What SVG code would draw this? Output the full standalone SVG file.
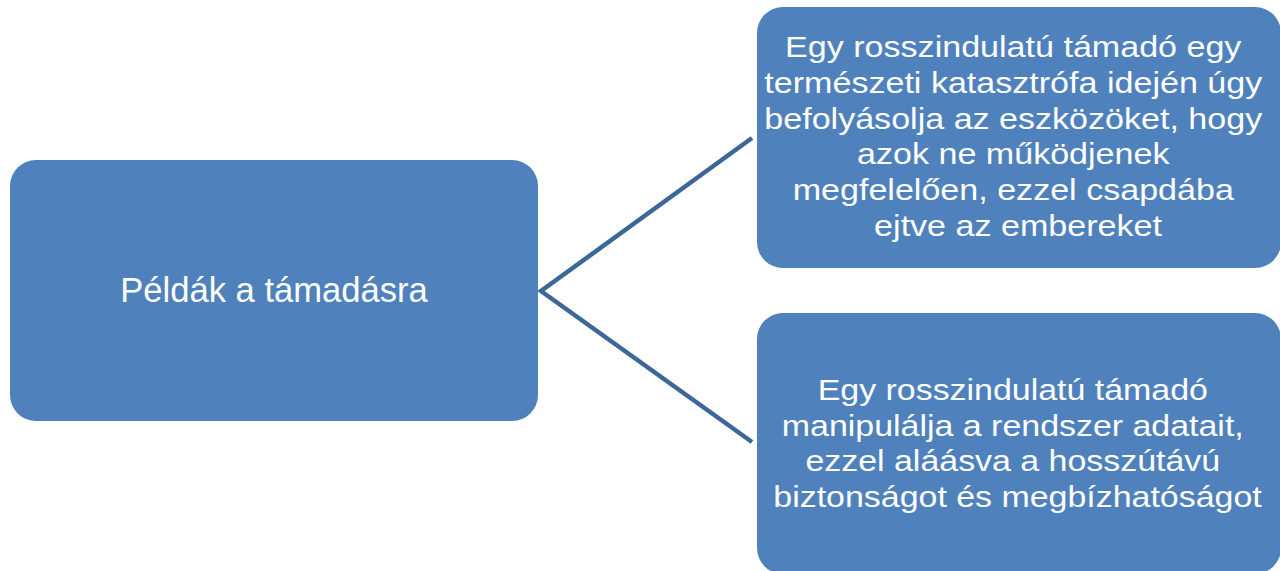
<svg xmlns="http://www.w3.org/2000/svg" width="1280" height="571" viewBox="0 0 1280 571">
  <style>
    .box { fill: #4f81bd; }
    .link { fill: none; stroke: #3c6799; stroke-width: 4.5; stroke-linejoin: miter; }
    .lbl { fill: #ffffff; font-family: "Liberation Sans", Arial, sans-serif; text-anchor: middle; }
    .main { font-size: 34.6px; }
    .leaf { font-size: 29px; }
  </style>
  <rect width="1280" height="571" fill="#ffffff"/>

  <!-- connectors from the root to both leaves -->
  <g id="connectors">
    <polyline class="link" points="752,138 541,291 752,442"/>
  </g>

  <g id="root">
    <rect class="box" x="10" y="160" width="528" height="261" rx="26"/>
    <text class="lbl main" x="274" y="302">Példák a támadásra</text>
  </g>

  <g id="leaf-disaster">
    <rect class="box" x="757" y="7" width="524" height="261" rx="26"/>
    <g transform="translate(1018,0) scale(1.175,1)">
      <text class="lbl leaf">
        <tspan x="0" y="57">Egy rosszindulatú támadó egy</tspan>
        <tspan x="0" y="92.8">természeti katasztrófa idején úgy</tspan>
        <tspan x="0" y="128.6">befolyásolja az eszközöket, hogy</tspan>
        <tspan x="0" y="164.4">azok ne működjenek</tspan>
        <tspan x="0" y="200.2">megfelelően, ezzel csapdába</tspan>
        <tspan x="0" y="236">ejtve az embereket</tspan>
      </text>
    </g>
  </g>

  <g id="leaf-data">
    <rect class="box" x="757" y="313" width="524" height="261" rx="26"/>
    <g transform="translate(1017.5,0) scale(1.17,1)">
      <text class="lbl leaf">
        <tspan x="0" y="400">Egy rosszindulatú támadó</tspan>
        <tspan x="0" y="435.6">manipulálja a rendszer adatait,</tspan>
        <tspan x="0" y="471.2">ezzel aláásva a hosszútávú</tspan>
        <tspan x="0" y="506.8">biztonságot és megbízhatóságot</tspan>
      </text>
    </g>
  </g>
</svg>
